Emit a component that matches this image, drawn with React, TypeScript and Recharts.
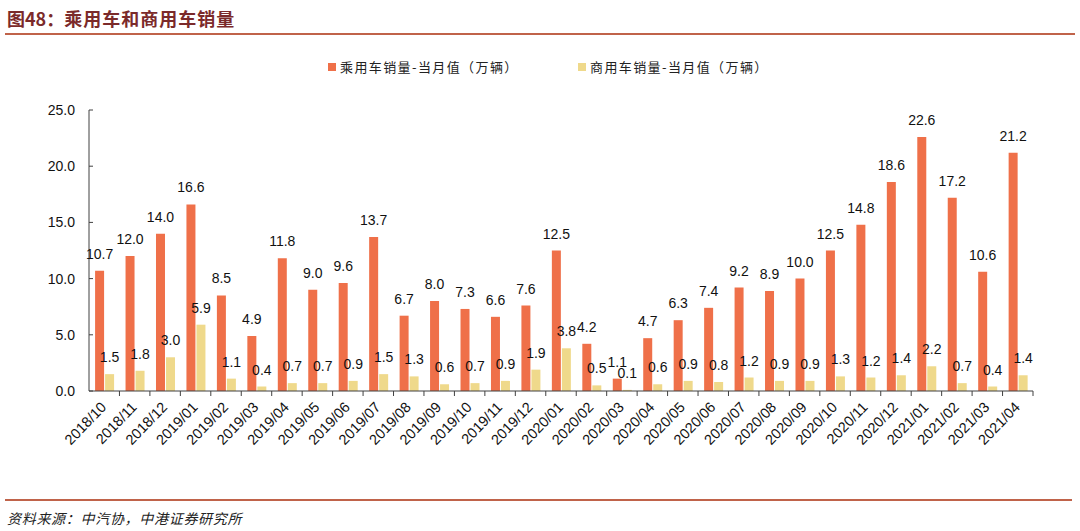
import React from "react";
import { BarChart, Bar, XAxis, YAxis, LabelList } from "recharts";

const categories = [
  "2018/10", "2018/11", "2018/12", "2019/01", "2019/02", "2019/03", "2019/04", "2019/05",
  "2019/06", "2019/07", "2019/08", "2019/09", "2019/10", "2019/11", "2019/12", "2020/01",
  "2020/02", "2020/03", "2020/04", "2020/05", "2020/06", "2020/07", "2020/08", "2020/09",
  "2020/10", "2020/11", "2020/12", "2021/01", "2021/02", "2021/03", "2021/04",
];
const passenger = [
  10.7, 12.0, 14.0, 16.6, 8.5, 4.9, 11.8, 9.0, 9.6, 13.7, 6.7, 8.0, 7.3, 6.6, 7.6, 12.5,
  4.2, 1.1, 4.7, 6.3, 7.4, 9.2, 8.9, 10.0, 12.5, 14.8, 18.6, 22.6, 17.2, 10.6, 21.2,
];
const commercial = [
  1.5, 1.8, 3.0, 5.9, 1.1, 0.4, 0.7, 0.7, 0.9, 1.5, 1.3, 0.6, 0.7, 0.9, 1.9, 3.8,
  0.5, 0.1, 0.6, 0.9, 0.8, 1.2, 0.9, 0.9, 1.3, 1.2, 1.4, 2.2, 0.7, 0.4, 1.4,
];
const yTicks = [0, 5, 10, 15, 20, 25];
const seriesNames = ["乘用车销量-当月值（万辆）", "商用车销量-当月值（万辆）"];
const titleText = ["图48：", "乘用车和商用车销量"];
const sourceText = "资料来源：中汽协，中港证券研究所";

const data = categories.map((m, i) => ({ month: m, passenger: passenger[i], commercial: commercial[i] }));

const W = 1080;
const H = 531;
const M = { top: 110, right: 47, bottom: 40, left: 0 };
const Y_W = 89;
const X_H = 100;
const BAND = (W - M.left - Y_W - M.right) / categories.length;

const C_PASS = "#EF7049";
const C_COMM = "#EFD98B";
const AXIS = "#404040";
const RULE = "#C0634A";
const FONT = "Arial, 'Liberation Sans', sans-serif";
const CJK = "'Noto Sans CJK SC', 'Noto Sans', sans-serif";

const XTick = (props: any) => {
  const { x, y, payload } = props;
  const tx = x + 3;
  const ty = y + 17;
  return (
    <g>
      <line x1={x + BAND / 2} x2={x + BAND / 2} y1={y} y2={y + 5} stroke={AXIS} strokeWidth={1} />
      <text
        x={tx}
        y={ty}
        textAnchor="end"
        fontSize={14.5}
        fontFamily={FONT}
        fill="#111"
        transform={`rotate(-46, ${tx}, ${ty})`}
      >
        {payload.value}
      </text>
    </g>
  );
};

const YTick = (props: any) => {
  const { x, y, payload } = props;
  return (
    <g>
      <line x1={x} x2={x + 4} y1={y} y2={y} stroke={AXIS} strokeWidth={1} />
      <text x={x - 14} y={y} dy="0.36em" textAnchor="end" fontSize={14} fontFamily={FONT} fill="#111">
        {Number(payload.value).toFixed(1)}
      </text>
    </g>
  );
};

const fmt = (v: any) => Number(v).toFixed(1);

const legendText: React.CSSProperties = {
  position: "absolute",
  top: 58,
  fontSize: 13,
  lineHeight: "18px",
  letterSpacing: 1.4,
  color: "#222",
  fontFamily: CJK,
  whiteSpace: "nowrap",
};

export default function App() {
  return (
    <div
      style={{
        position: "absolute",
        left: 0,
        top: 0,
        width: W,
        height: H,
        background: "#fff",
        fontFamily: FONT,
        overflow: "hidden",
      }}
    >
      <div
        style={{
          position: "absolute",
          left: 7,
          top: 7,
          fontSize: 18,
          fontWeight: "bold",
          color: "#7B2A2A",
          lineHeight: "22px",
          fontFamily: CJK,
          whiteSpace: "nowrap",
        }}
      >
        <span>{titleText[0]}</span>
        <span style={{ letterSpacing: 1 }}>{titleText[1]}</span>
      </div>
      <div style={{ position: "absolute", left: 5, top: 33, width: 1070, height: 2, background: RULE }} />

      <div style={{ position: "absolute", left: 328, top: 63, width: 8, height: 8, background: C_PASS }} />
      <div style={{ ...legendText, left: 340 }}>{seriesNames[0]}</div>
      <div style={{ position: "absolute", left: 578, top: 63, width: 8, height: 8, background: C_COMM }} />
      <div style={{ ...legendText, left: 590 }}>{seriesNames[1]}</div>

      <div style={{ position: "absolute", left: 0, top: 0 }}>
        <BarChart width={W} height={H} data={data} margin={M} barCategoryGap="20%" barGap={1}>
          <XAxis
            dataKey="month"
            interval={0}
            height={X_H}
            axisLine={{ stroke: AXIS, strokeWidth: 1 }}
            tickLine={false}
            tickSize={0}
            tickMargin={0}
            tick={<XTick />}
          />
          <YAxis
            width={Y_W}
            domain={[0, 25]}
            ticks={yTicks}
            axisLine={{ stroke: AXIS, strokeWidth: 1 }}
            tickLine={false}
            tickSize={0}
            tickMargin={0}
            tick={<YTick />}
          />
          <Bar dataKey="passenger" fill={C_PASS} isAnimationActive={false}>
            <LabelList
              dataKey="passenger"
              position="top"
              offset={12}
              formatter={fmt}
              fontSize={14}
              fontFamily={FONT}
              fill="#111"
            />
          </Bar>
          <Bar dataKey="commercial" fill={C_COMM} isAnimationActive={false}>
            <LabelList
              dataKey="commercial"
              position="top"
              offset={12}
              formatter={fmt}
              fontSize={14}
              fontFamily={FONT}
              fill="#111"
            />
          </Bar>
        </BarChart>
      </div>

      <div style={{ position: "absolute", left: 5, top: 499, width: 1067, height: 2, background: RULE }} />
      <div
        style={{
          position: "absolute",
          left: 7,
          top: 508,
          fontSize: 14,
          lineHeight: "20px",
          fontStyle: "italic",
          letterSpacing: 0.7,
          color: "#222",
          fontFamily: CJK,
          whiteSpace: "nowrap",
        }}
      >
        {sourceText}
      </div>
    </div>
  );
}
